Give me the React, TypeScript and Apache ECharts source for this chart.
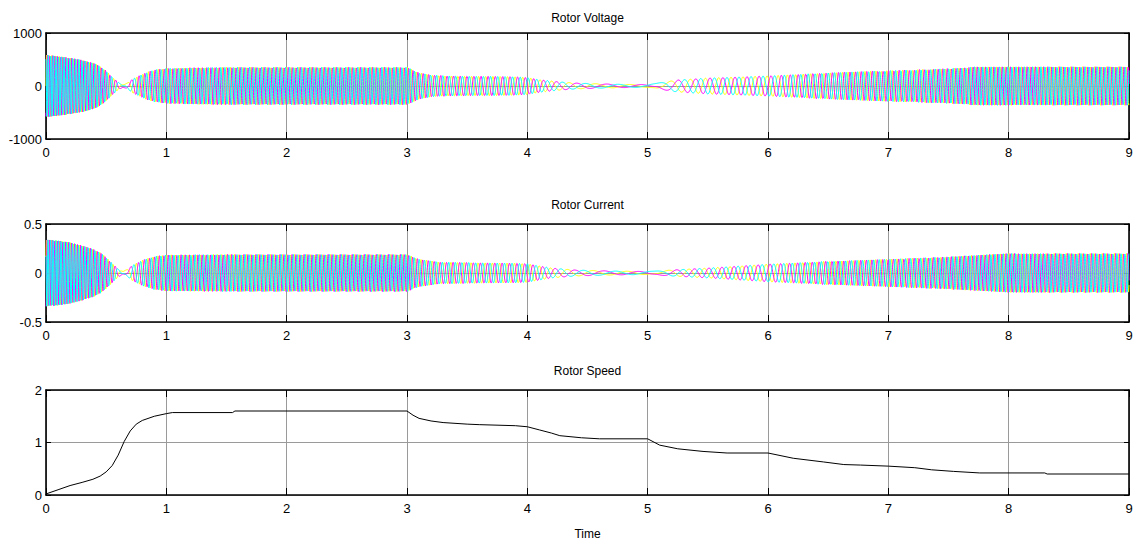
import React, { useEffect, useRef } from "react";
import * as echarts from "echarts";

// ---- Data ----
// Rotor speed (time in s, value)
const speedTime = [0, 0.1, 0.2, 0.3, 0.39, 0.45, 0.5, 0.55, 0.6, 0.65, 0.7, 0.75, 0.8, 0.9, 1.0, 1.05, 1.55, 1.57, 3.0, 3.05, 3.1, 3.2, 3.3, 3.5, 3.6, 3.9, 4.0, 4.1, 4.2, 4.27, 4.45, 4.6, 5.0, 5.1, 5.25, 5.46, 5.66, 6.0, 6.21, 6.46, 6.63, 6.77, 7.0, 7.22, 7.36, 7.54, 7.76, 8.3, 8.32, 9.0];
const speedValue = [0.02, 0.1, 0.18, 0.24, 0.3, 0.36, 0.44, 0.56, 0.76, 1.02, 1.22, 1.35, 1.42, 1.5, 1.55, 1.57, 1.57, 1.6, 1.6, 1.52, 1.46, 1.41, 1.38, 1.35, 1.34, 1.32, 1.3, 1.24, 1.18, 1.13, 1.09, 1.07, 1.07, 0.95, 0.88, 0.83, 0.8, 0.8, 0.7, 0.63, 0.58, 0.57, 0.55, 0.52, 0.48, 0.45, 0.42, 0.42, 0.4, 0.4];

// Rotor voltage envelope (peak amplitude)
const voltageEnvTime = [0, 0.1, 0.2, 0.3, 0.4, 0.45, 0.5, 0.55, 0.6, 0.64, 0.68, 0.72, 0.78, 0.85, 0.92, 1.0, 1.2, 1.5, 3.0, 3.05, 3.1, 3.2, 3.33, 3.6, 3.9, 4.0, 4.1, 4.25, 4.4, 4.6, 4.8, 5.0, 5.1, 5.24, 5.5, 6.0, 6.5, 7.0, 7.4, 7.65, 7.7, 9.0];
const voltageEnvAmp = [585, 560, 530, 490, 430, 370, 290, 170, 70, 25, 60, 130, 200, 270, 310, 330, 345, 355, 355, 300, 250, 210, 190, 185, 175, 160, 120, 80, 55, 40, 30, 25, 60, 110, 150, 190, 250, 290, 320, 345, 365, 365];

// Rotor current envelope (peak amplitude)
const currentEnvTime = [0, 0.1, 0.2, 0.3, 0.4, 0.45, 0.5, 0.55, 0.6, 0.64, 0.68, 0.72, 0.8, 0.9, 1.0, 1.5, 3.0, 3.1, 3.3, 3.9, 4.0, 4.2, 4.4, 4.7, 5.0, 5.2, 5.5, 6.0, 6.5, 7.0, 7.5, 7.7, 8.0, 9.0];
const currentEnvAmp = [0.34, 0.33, 0.31, 0.28, 0.24, 0.21, 0.16, 0.1, 0.04, 0.015, 0.04, 0.08, 0.13, 0.17, 0.185, 0.19, 0.19, 0.14, 0.11, 0.1, 0.095, 0.05, 0.03, 0.02, 0.015, 0.03, 0.05, 0.09, 0.12, 0.14, 0.165, 0.18, 0.2, 0.2];

const SUPPLY_HZ = 50; // rotor frequency = supply frequency x |slip|
const SAMPLE_DT = 0.001;
const T_END = 9;
const phaseColors = ["#ffff00", "#ff00ff", "#00ffff"];
const phaseShifts = [0, (-2 * Math.PI) / 3, (2 * Math.PI) / 3];

const titles = ["Rotor Voltage", "Rotor Current", "Rotor Speed"];

function interp(ts: number[], vs: number[], t: number): number {
  if (t <= ts[0]) return vs[0];
  for (let i = 1; i < ts.length; i++) {
    if (t <= ts[i]) {
      const f = (t - ts[i - 1]) / (ts[i] - ts[i - 1]);
      return vs[i - 1] + f * (vs[i] - vs[i - 1]);
    }
  }
  return vs[vs.length - 1];
}

function buildThreePhase(envT: number[], envA: number[], lag: number) {
  const out: number[][][] = [[], [], []];
  let phase = 0;
  const n = Math.round(T_END / SAMPLE_DT);
  for (let i = 0; i <= n; i++) {
    const t = i * SAMPLE_DT;
    const amp = interp(envT, envA, t);
    for (let k = 0; k < 3; k++) {
      out[k].push([t, amp * Math.sin(phase + phaseShifts[k] + lag)]);
    }
    const freq = SUPPLY_HZ * Math.abs(1 - interp(speedTime, speedValue, t));
    phase += 2 * Math.PI * freq * SAMPLE_DT;
  }
  return out;
}

export default function App() {
  const ref = useRef<HTMLDivElement>(null);
  useEffect(() => {
    document.body.style.margin = "0";
    const chart = echarts.init(ref.current!, null, { renderer: "svg" });
    const volt = buildThreePhase(voltageEnvTime, voltageEnvAmp, 0);
    const curr = buildThreePhase(currentEnvTime, currentEnvAmp, 0.5);
    const font = "Liberation Sans, Arial, sans-serif";
    const gridLeft = 46;
    const gridRight = 9;
    const grids = [
      { top: 33, height: 106 },
      { top: 224, height: 98 },
      { top: 390, height: 105 },
    ];
    const yRanges = [
      { min: -1000, max: 1000, interval: 1000 },
      { min: -0.5, max: 0.5, interval: 0.5 },
      { min: 0, max: 2, interval: 1 },
    ];
    const xAxis: any[] = [];
    const yAxis: any[] = [];
    grids.forEach((g, i) => {
      xAxis.push({
        type: "value",
        gridIndex: i,
        min: 0,
        max: 9,
        interval: 1,
        position: "bottom",
        axisLine: { show: true, onZero: false, lineStyle: { color: "#000", width: 1.6 } },
        axisTick: { show: true, inside: true, length: 7, lineStyle: { color: "#000" } },
        axisLabel: { color: "#000", fontSize: 13, fontFamily: font, margin: 7 },
        splitLine: { show: true, lineStyle: { color: "#9a9a9a", width: 1 } },
        name: i === 2 ? "Time" : "",
        nameLocation: "middle",
        nameGap: 33,
        nameTextStyle: { color: "#000", fontSize: 12, fontFamily: font },
      });
      xAxis.push({
        type: "value",
        gridIndex: i,
        min: 0,
        max: 9,
        interval: 1,
        position: "top",
        axisLine: { show: true, onZero: false, lineStyle: { color: "#000", width: 1.6 } },
        axisTick: { show: true, inside: true, length: 7, lineStyle: { color: "#000" } },
        axisLabel: { show: false },
        splitLine: { show: false },
      });
      yAxis.push({
        type: "value",
        gridIndex: i,
        ...yRanges[i],
        position: "left",
        axisLine: { show: true, onZero: false, lineStyle: { color: "#000", width: 1.6 } },
        axisTick: { show: true, inside: true, length: 5, lineStyle: { color: "#000" } },
        axisLabel: {
          color: "#000",
          fontSize: 13,
          fontFamily: font,
          margin: 4,
          formatter: (v: number) => String(v),
        },
        splitLine: { show: true, lineStyle: { color: "#9a9a9a", width: 1 } },
      });
      yAxis.push({
        type: "value",
        gridIndex: i,
        ...yRanges[i],
        position: "right",
        axisLine: { show: true, onZero: false, lineStyle: { color: "#000", width: 1.6 } },
        axisTick: { show: true, inside: true, length: 5, lineStyle: { color: "#000" } },
        axisLabel: { show: false },
        splitLine: { show: false },
      });
    });

    const series: any[] = [];
    [volt, curr].forEach((waves, gi) => {
      waves.forEach((d, k) => {
        series.push({
          type: "line",
          xAxisIndex: gi * 2,
          yAxisIndex: gi * 2,
          data: d,
          showSymbol: false,
          symbol: "none",
          lineStyle: { color: phaseColors[k], width: 1 },
          silent: true,
        });
      });
    });
    series.push({
      type: "line",
      xAxisIndex: 4,
      yAxisIndex: 4,
      data: speedTime.map((t, i) => [t, speedValue[i]]),
      showSymbol: false,
      symbol: "none",
      lineStyle: { color: "#000", width: 1 },
      silent: true,
    });

    const centerX = gridLeft + (1138 - gridLeft - gridRight) / 2;
    const titleY = [18, 205, 371];
    chart.setOption({
      animation: false,
      backgroundColor: "#fff",
      grid: grids.map((g) => ({ left: gridLeft, right: gridRight, top: g.top, height: g.height })),
      xAxis,
      yAxis,
      series,
      graphic: titles.map((t, i) => ({
        type: "text",
        x: centerX,
        y: titleY[i],
        style: {
          text: t,
          fill: "#000",
          fontSize: 12,
          fontFamily: font,
          textAlign: "center",
          textVerticalAlign: "middle",
        },
      })),
    });
    return () => chart.dispose();
  }, []);
  return <div ref={ref} style={{ width: 1138, height: 549 }} />;
}
